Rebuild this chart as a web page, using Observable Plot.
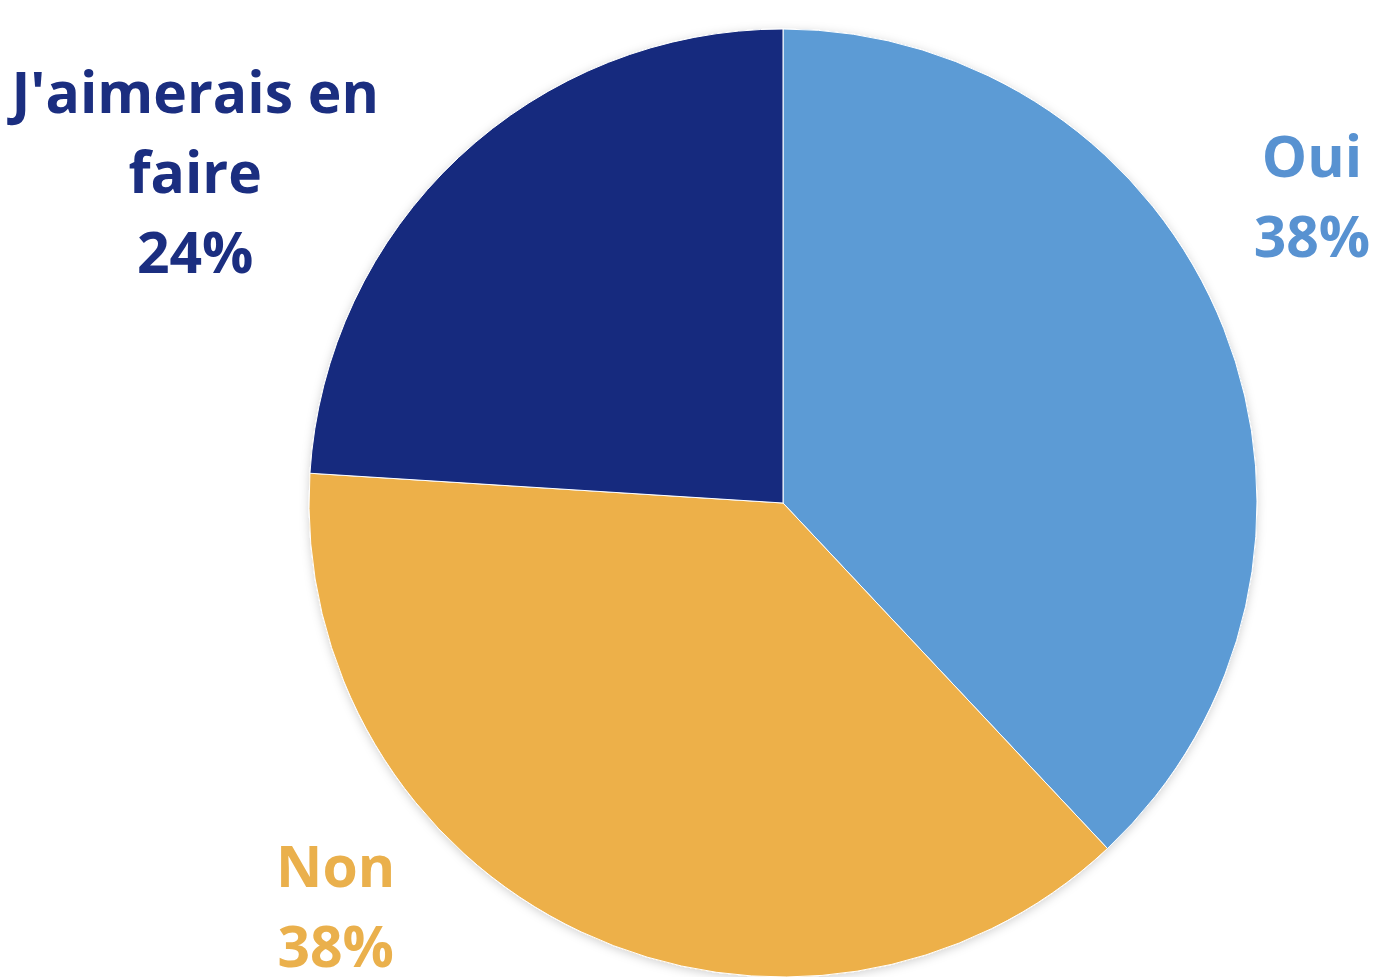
<!DOCTYPE html>
<html>
<head>
<meta charset="utf-8">
<script src="https://cdn.jsdelivr.net/npm/d3@7"></script>
<script src="https://cdn.jsdelivr.net/npm/@observablehq/plot@0.6"></script>
<style>
  html, body { margin: 0; padding: 0; background: #ffffff; }
  #chart svg { display: block; }
</style>
</head>
<body>
<div id="chart"></div>
<script>
// ---- data ----
const categories = ["Oui", "Non", "J'aimerais en faire"];
const values = [38, 38, 24];
const labelLines = [["Oui"], ["Non"], ["J'aimerais en", "faire"]];
const sliceColors = ["#5B9BD5", "#EDB04A", "#142A7E"];
const labelColors = ["#5892D1", "#EAB04C", "#1B2E80"];

// ---- style ----
const W = 1377, H = 977;
const pieStyle = { cx: 783, cy: 503, r: 474 };
const labelStyle = { radiusFactor: 1.3, fontSize: 57, lineHeight: 80,
  nudges: [[-44, -99], [-185, -174], [-166, 59]] };

const table = categories.map((c, i) => ({ category: c, value: values[i], lines: labelLines[i] }));
const color = Plot.scale({ color: { type: "ordinal", domain: categories, range: sliceColors } });
const labelColor = Plot.scale({ color: { type: "ordinal", domain: categories, range: labelColors } });

function pieMark(index, scales, vals, dimensions) {
  const g = d3.create("svg:g");
  const defs = g.append("defs");
  const f = defs.append("filter").attr("id", "pieShadow")
    .attr("x", "-10%").attr("y", "-10%").attr("width", "120%").attr("height", "120%");
  f.append("feDropShadow").attr("dx", 0).attr("dy", 2).attr("stdDeviation", 5)
    .attr("flood-color", "#000").attr("flood-opacity", 0.18);

  const arcs = d3.pie().sort(null).value(d => d.value)(table);
  const arc = d3.arc().innerRadius(0).outerRadius(pieStyle.r);
  const root = g.append("g").attr("transform", `translate(${pieStyle.cx},${pieStyle.cy})`);
  root.append("g").attr("filter", "url(#pieShadow)")
    .selectAll("path").data(arcs).join("path")
    .attr("d", arc)
    .attr("fill", d => color.apply(d.data.category))
    .attr("stroke", "#ffffff").attr("stroke-width", 1);

  const labelArc = d3.arc().innerRadius(pieStyle.r * labelStyle.radiusFactor)
    .outerRadius(pieStyle.r * labelStyle.radiusFactor);
  arcs.forEach((d, i) => {
    const [x, y] = labelArc.centroid(d);
    const [nx, ny] = labelStyle.nudges[i];
    const t = root.append("text")
      .attr("text-anchor", "middle")
      .attr("font-family", "'Open Sans', sans-serif")
      .attr("font-weight", 700)
      .attr("font-size", labelStyle.fontSize)
      .attr("fill", labelColor.apply(d.data.category));
    const lines = [...d.data.lines, `${d.data.value}%`];
    lines.forEach((ln, j) => {
      t.append("tspan").attr("x", x + nx).attr("y", y + ny + j * labelStyle.lineHeight).text(ln);
    });
  });
  return g.node();
}

const chart = Plot.plot({
  width: W,
  height: H,
  margin: 0,
  x: { axis: null },
  y: { axis: null },
  style: { background: "#ffffff", overflow: "visible" },
  marks: [pieMark]
});
document.getElementById("chart").appendChild(chart);
</script>
</body>
</html>
